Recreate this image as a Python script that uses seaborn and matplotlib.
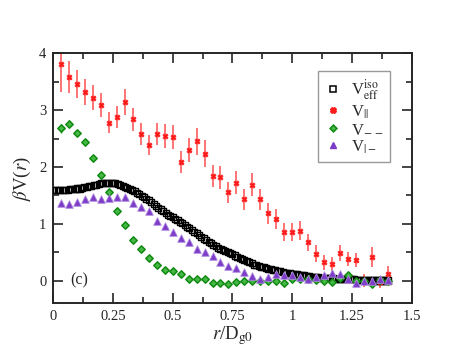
import numpy as np
import matplotlib
matplotlib.use("Agg")
import matplotlib.pyplot as plt
import seaborn as sns
from matplotlib.lines import Line2D
from matplotlib.ticker import MultipleLocator

# black curve V_eff^iso, r = 0.00 .. 1.40 step 0.01
r_eff = np.round(np.arange(0, 141) * 0.01, 2)
v_eff = [1.60, 1.60, 1.60, 1.60, 1.60, 1.60, 1.60, 1.61, 1.61, 1.61,
         1.62, 1.62, 1.63, 1.64, 1.65, 1.66, 1.67, 1.68, 1.69, 1.70,
         1.71, 1.71, 1.72, 1.72, 1.72, 1.71, 1.71, 1.70, 1.69, 1.67,
         1.65, 1.63, 1.61, 1.59, 1.57, 1.54, 1.52, 1.49, 1.47, 1.44,
         1.41, 1.38, 1.35, 1.32, 1.28, 1.25, 1.22, 1.19, 1.16, 1.14,
         1.11, 1.08, 1.06, 1.03, 1.01, 0.98, 0.95, 0.92, 0.89, 0.86,
         0.83, 0.80, 0.77, 0.74, 0.71, 0.68, 0.66, 0.63, 0.61, 0.58,
         0.56, 0.54, 0.52, 0.50, 0.48, 0.46, 0.44, 0.42, 0.40, 0.38,
         0.36, 0.34, 0.32, 0.30, 0.28, 0.27, 0.25, 0.24, 0.23, 0.22,
         0.21, 0.20, 0.19, 0.18, 0.17, 0.16, 0.15, 0.14, 0.14, 0.13,
         0.12, 0.11, 0.11, 0.10, 0.10, 0.09, 0.08, 0.08, 0.07, 0.07,
         0.06, 0.06, 0.05, 0.05, 0.05, 0.04, 0.04, 0.04, 0.03, 0.03,
         0.03, 0.03, 0.02, 0.02, 0.02, 0.02, 0.02, 0.01, 0.01, 0.01,
         0.01, 0.01, 0.01, 0.01, 0.01, 0.00, 0.00, 0.00, 0.00, 0.00,
         0.00]

# the other three series, r = k/30, k = 1..42
r_k = np.arange(1, 43) / 30.0
v_par = [3.82, 3.58, 3.46, 3.32, 3.22, 3.09, 2.78, 2.88, 3.15, 2.84,
         2.58, 2.39, 2.58, 2.54, 2.52, 2.09, 2.30, 2.45, 2.23, 1.84,
         1.82, 1.55, 1.72, 1.43, 1.69, 1.43, 1.18, 1.08, 0.86, 0.86,
         0.88, 0.67, 0.47, 0.32, 0.29, 0.49, 0.38, 0.36, 0.00, 0.41,
         -0.03, 0.11]
err_par = [0.50, 0.28, 0.24, 0.23, 0.22, 0.21, 0.19, 0.20, 0.23, 0.20,
           0.19, 0.18, 0.20, 0.21, 0.21, 0.19, 0.21, 0.24, 0.24, 0.20,
           0.20, 0.18, 0.20, 0.18, 0.20, 0.19, 0.18, 0.18, 0.16, 0.16,
           0.16, 0.15, 0.15, 0.13, 0.13, 0.14, 0.13, 0.13, 0.12, 0.18,
           0.11, 0.14]
v_mm = [2.68, 2.76, 2.60, 2.44, 2.16, 1.86, 1.55, 1.22, 0.98, 0.71,
        0.56, 0.39, 0.28, 0.19, 0.16, 0.11, 0.02, 0.02, 0.03, -0.04,
        -0.05, -0.07, -0.02, -0.01, 0.00, -0.01, -0.01, 0.00, -0.05, 0.03,
        0.02, 0.02, 0.01, -0.01, -0.02, 0.04, 0.09, 0.00, 0.00, -0.06,
        0.01, 0.00]
err_mm = [0.08, 0.06, 0.03, 0.03, 0.02, 0.02, 0.02, 0.02, 0.02, 0.02,
          0.02, 0.02, 0.02, 0.02, 0.02, 0.02, 0.02, 0.02, 0.02, 0.02,
          0.02, 0.02, 0.02, 0.02, 0.02, 0.02, 0.02, 0.02, 0.02, 0.02,
          0.02, 0.02, 0.02, 0.02, 0.02, 0.02, 0.02, 0.02, 0.02, 0.02,
          0.02, 0.02]
v_pm = [1.37, 1.35, 1.39, 1.43, 1.47, 1.44, 1.46, 1.47, 1.47, 1.36,
        1.29, 1.22, 1.04, 0.96, 0.86, 0.75, 0.68, 0.55, 0.51, 0.44,
        0.32, 0.25, 0.22, 0.15, 0.08, 0.02, 0.06, 0.11, 0.10, 0.10,
        0.06, 0.03, 0.07, 0.10, 0.13, 0.12, 0.03, -0.04, -0.01, -0.01,
        0.03, 0.01]

labels = [r'V$_{\rm eff}^{\rm iso}$', r'V$_{||}$', r'V$_{-\,-}$', r'V$_{|-}$']
xticks = [0, 0.25, 0.5, 0.75, 1.0, 1.25, 1.5]
xticklabels = ['0', '0.25', '0.5', '0.75', '1', '1.25', '1.5']

sns.set_style('ticks')
plt.rcParams['font.family'] = ['Liberation Serif', 'DejaVu Serif']
plt.rcParams['mathtext.fontset'] = 'stix'
plt.rcParams['axes.linewidth'] = 1.4

red = '#ff1a1a'
green = '#138a13'
green_fill = '#45b845'
purple = '#7d3cc8'

fig = plt.figure(figsize=(4.63, 3.58), dpi=100)
ax = fig.add_axes([0.115, 0.153, 0.774, 0.698])

# red with error bars
ax.errorbar(r_k, v_par, yerr=err_par, fmt='none', ecolor='#ff4d4d',
            elinewidth=1.1, capsize=0, zorder=2)
# green error bars
ax.errorbar(r_k, v_mm, yerr=err_mm, fmt='none', ecolor=green,
            elinewidth=1.0, capsize=0, zorder=2)

sns.scatterplot(x=r_eff, y=v_eff, marker='s', s=19, facecolor='none',
                edgecolor='black', linewidth=1.0, ax=ax, zorder=3)
sns.scatterplot(x=r_k, y=v_par, marker='X', s=14, color=red,
                edgecolor=red, linewidth=0.5, ax=ax, zorder=4)
sns.scatterplot(x=r_k, y=v_mm, marker='D', s=14, facecolor=green_fill,
                edgecolor=green, linewidth=1.1, ax=ax, zorder=4)
sns.scatterplot(x=r_k, y=v_pm, marker='^', s=30, color=purple,
                edgecolor='#b08be0', linewidth=0.6, ax=ax, zorder=4)

ax.set_xlim(0, 1.5)
ax.set_ylim(-0.4, 4)
ax.set_xticks(xticks)
ax.set_xticklabels(xticklabels)
ax.set_yticks([0, 1, 2, 3, 4])
ax.set_yticklabels(['0', '1', '2', '3', '4'])
ax.xaxis.set_minor_locator(MultipleLocator(0.125))
ax.yaxis.set_minor_locator(MultipleLocator(0.5))
ax.tick_params(which='both', direction='in', top=True, right=True,
               labelsize=10.5, width=1.2, pad=5)
ax.tick_params(which='major', length=7)
ax.tick_params(which='minor', length=4)
for s in ax.spines.values():
    s.set_visible(True)

ax.set_xlabel(r'$r$/D$_{\rm g0}$', fontsize=13.5, labelpad=1)
ax.set_ylabel(r'$\beta$V($r$)', fontsize=13.5, labelpad=4)
ax.text(0.07, 0.0, '(c)', fontsize=11.5, va='center', ha='left')

handles = [
    Line2D([], [], ls='none', marker='s', ms=4, mfc='none', mec='black', mew=1.1),
    Line2D([], [], ls='none', marker='X', ms=4, color=red),
    Line2D([], [], ls='none', marker='D', ms=3.5, mfc=green_fill, mec=green, mew=1.1),
    Line2D([], [], ls='none', marker='^', ms=5, color=purple),
]
leg = ax.legend(handles, labels, loc='upper right', bbox_to_anchor=(0.94, 0.93),
                borderaxespad=0, fontsize=12, frameon=True, fancybox=False,
                handlelength=1.0, handletextpad=0.6, labelspacing=0.05,
                borderpad=0.4)
leg.get_frame().set_edgecolor('#808080')
leg.get_frame().set_linewidth(1.0)

fig.savefig('out.png', dpi=100)
